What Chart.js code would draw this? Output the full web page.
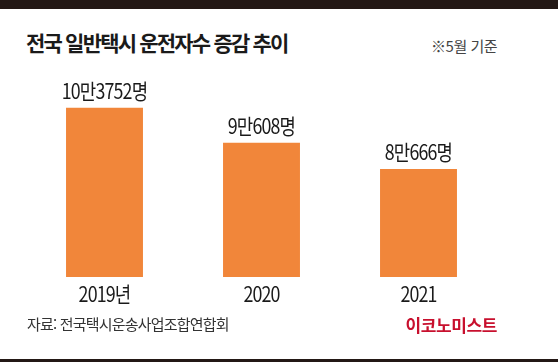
<!DOCTYPE html>
<html lang="ko">
<head>
<meta charset="utf-8">
<script src="https://cdn.jsdelivr.net/npm/chart.js@4"></script>
<style>
  html, body { margin: 0; padding: 0; background: #fff; }
  #wrap { position: relative; width: 558px; height: 362px; overflow: hidden; font-family: "Noto Sans CJK KR", sans-serif; }
  #topbar { position: absolute; left: 0; top: 0; width: 558px; height: 9px; background: #231815; }
  #bottombar { position: absolute; left: 0; top: 359px; width: 558px; height: 3px; background: #231815; }
  #title { position: absolute; left: 26px; top: 32px; font-size: 21px; font-weight: 700; color: #1a1a1a; letter-spacing: -1.8px; line-height: 1; white-space: nowrap; }
  #note { position: absolute; right: 61px; top: 38px; font-size: 15px; color: #444; letter-spacing: -0.5px; line-height: 1; white-space: nowrap; }
  #source { position: absolute; left: 27px; top: 316px; font-size: 15px; color: #333; letter-spacing: -0.8px; line-height: 1; white-space: nowrap; }
  #logo { position: absolute; right: 61px; top: 316px; font-size: 17px; font-weight: 700; color: #c8102e; letter-spacing: -0.4px; line-height: 1; white-space: nowrap; }
  canvas { position: absolute; left: 0; top: 0; }
</style>
</head>
<body>
<div id="wrap">
  <div id="topbar"></div>
  <div id="title">전국 일반택시 운전자수 증감 추이</div>
  <div id="note">※5월 기준</div>
  <canvas id="taxiChart" width="558" height="362"></canvas>
  <div id="source">자료: 전국택시운송사업조합연합회</div>
  <div id="logo">이코노미스트</div>
  <div id="bottombar"></div>
</div>
<script>
// 데이터
const years = ['2019년', '2020', '2021'];
const drivers = [103752, 90608, 80666];
const valueLabels = ['10만3752명', '9만608명', '8만666명'];

// 좁은 글꼴 느낌으로 가로만 줄여서 그림
function drawNarrow(ctx, text, x, y) {
    const squeeze = 0.85;
    ctx.save();
    ctx.translate(x, y);
    ctx.scale(squeeze, 1);
    ctx.fillText(text, 0, 0);
    ctx.restore();
}

// 막대 위 숫자 + 아래 연도 라벨
const labelPlugin = {
    id: 'labelPlugin',
    afterDatasetsDraw(chart) {
        const ctx = chart.ctx;
        const meta = chart.getDatasetMeta(0);
        const xScale = chart.scales.x;
        ctx.save();
        ctx.textAlign = 'center';
        ctx.textBaseline = 'middle';
        ctx.fillStyle = '#1a1a1a';
        ctx.letterSpacing = '-1px';
        ctx.font = '21px "Noto Sans CJK KR"';
        meta.data.forEach((bar, i) => {
            drawNarrow(ctx, valueLabels[i], bar.x, bar.y - 17);
        });
        years.forEach((y, i) => {
            drawNarrow(ctx, y, xScale.getPixelForValue(i), chart.chartArea.bottom + 17);
        });
        ctx.restore();
    }
};

new Chart(document.getElementById('taxiChart'), {
    type: 'bar',
    data: {
        labels: years,
        datasets: [{
            data: drivers,
            backgroundColor: '#f1863a',
            borderWidth: 0,
            categoryPercentage: 1,
            barPercentage: 0.49
        }]
    },
    options: {
        responsive: false,
        animation: false,
        layout: { padding: { left: 26, right: 61, top: 78, bottom: 85 } },
        plugins: { legend: { display: false }, tooltip: { enabled: false } },
        scales: {
            x: { display: false },
            y: { display: false, min: 40000, max: 115000 }
        }
    },
    plugins: [labelPlugin]
});
</script>
</body>
</html>
